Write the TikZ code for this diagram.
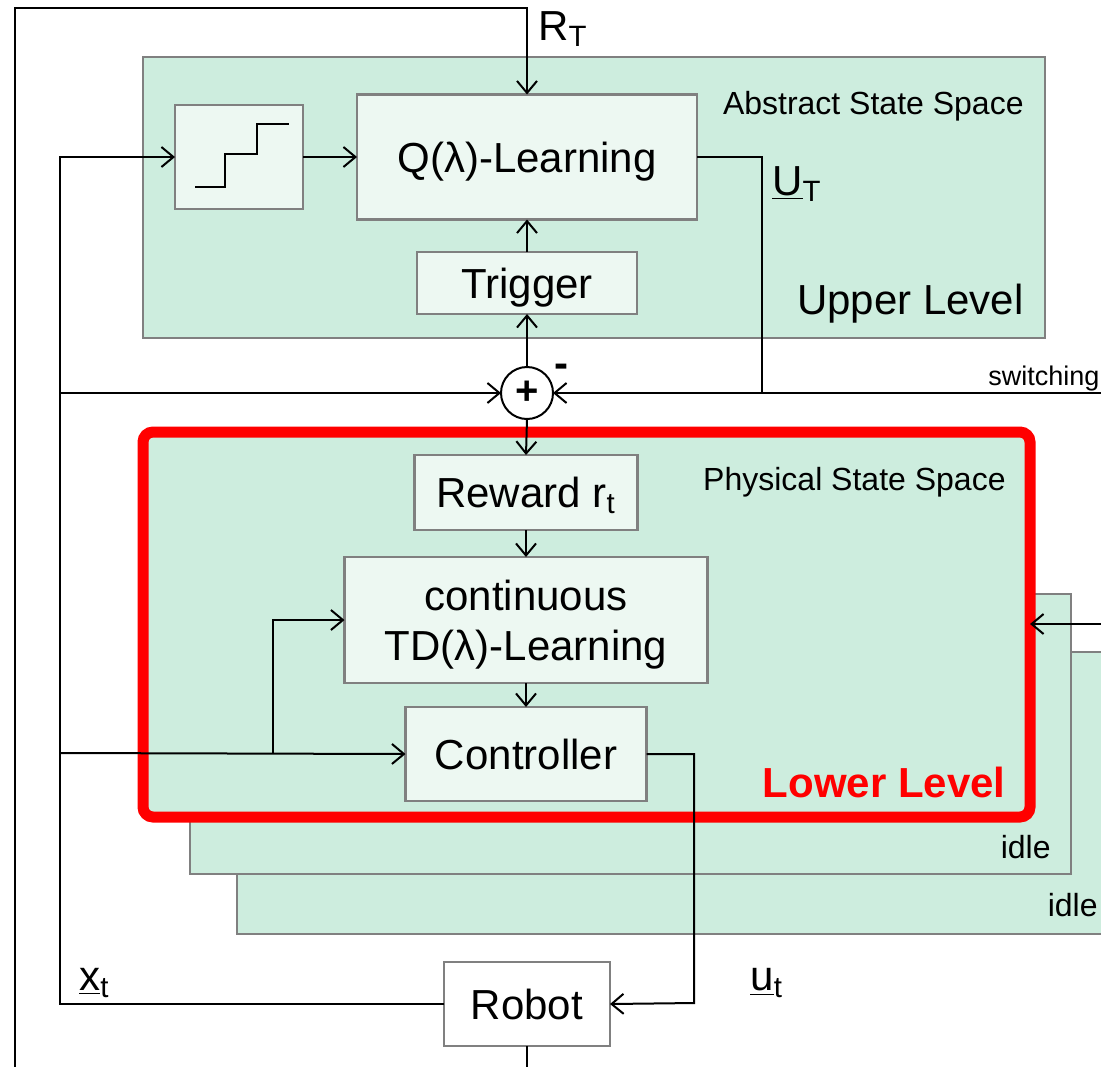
\documentclass[tikz,border=0pt]{standalone}
\usepackage{fontspec}
\setmainfont{Liberation Sans}
\usetikzlibrary{arrows.meta}

\definecolor{lvlgreen}{RGB}{205,237,222}
\definecolor{blockfill}{RGB}{237,248,242}
\definecolor{edgegray}{RGB}{128,128,128}

\tikzset{
    level/.style={draw=edgegray, fill=lvlgreen, line width=1.2pt, inner sep=0pt, outer sep=0pt},
    block/.style={draw=edgegray, fill=blockfill, line width=1.2pt, inner sep=0pt, outer sep=0pt,
        align=center, text depth=0pt, font=\fontsize{21}{25}\selectfont},
    wire/.style={line width=1pt},
    tag/.style={inner sep=0pt, font=\fontsize{16}{19}\selectfont},
    sig/.style={inner sep=0pt, font=\fontsize{21}{25}\selectfont},
    >={Straight Barb[length=6pt,width=10pt]}
}

\begin{document}
\begin{tikzpicture}[x=0.5pt, y=-0.5pt]
    \clip (0,0) rectangle (1101,1066);

    % upper level
    \draw[level] (143,57) rectangle (1045,338);
    \node[tag, anchor=east] (abstract) at (1024,106) {Abstract State Space};
    \node[sig, anchor=east] (upperlbl) at (1024,304) {Upper Level};

    \node[block, minimum width=64pt, minimum height=52pt] (step) at (239,157) {};
    \draw[wire] (195,187) -- (225,187) -- (225,154) -- (257,154) -- (257,124) -- (289,124);
    \node[block, minimum width=170pt, minimum height=62.5pt] (qlearn) at (527,157) {Q(λ)-Learning};
    \node[block, minimum width=110pt, minimum height=31pt] (trigger) at (527,283) {Trigger};

    % lower level, with the idle copies behind it
    \draw[level] (237,652) rectangle (1120,934);
    \node[tag, anchor=east] (idleB) at (1098,905) {idle};
    \draw[level] (190,594) rectangle (1071,874);
    \node[tag, anchor=east] (idleA) at (1051,847) {idle};
    \node[level, draw=red, line width=5.5pt, rounded corners=5pt,
        minimum width=443.5pt, minimum height=192.5pt] (lower) at (586.5,624.5) {};
    \node[tag, anchor=east] (physical) at (1006,482) {Physical State Space};
    \node[sig, anchor=east, text=red, font=\bfseries\fontsize{21}{25}\selectfont] (lowerlbl) at (1006,782) {Lower Level};

    \node[block, minimum width=111.5pt, minimum height=37.5pt] (reward) at (526,492.5) {Reward r\textsubscript{t}};
    \node[block, minimum width=181.5pt, minimum height=63pt] (td) at (526,620) {continuous\\TD(λ)-Learning};
    \node[block, minimum width=120.5pt, minimum height=47pt] (ctrl) at (526,754) {Controller};
    \node[block, fill=white, minimum width=83pt, minimum height=42pt] (robot) at (527,1004) {Robot};

    % comparison
    \node[draw, circle, wire, fill=white, minimum size=26pt, inner sep=0pt, outer sep=0pt,
        font=\bfseries\fontsize{20}{20}\selectfont] (sum) at (527,393) {+};
    \node[sig, font=\bfseries\fontsize{21}{25}\selectfont] (minus) at (561,371) {-};

    % free ends
    \coordinate (fbin) at (15,1080);
    \coordinate (rtop) at (527,8);
    \coordinate (xtop) at (60,157);
    \coordinate (xsum) at (60,393);
    \coordinate (xctl) at (60,753);
    \coordinate (xtd) at (273,753);
    \coordinate (uturn) at (762,393);
    \coordinate (swin) at (1120,393);
    \coordinate (idlein) at (1120,624);
    \coordinate (ucorner) at (694,1003);
    \coordinate (robout) at (527,1080);

    % connectors
    \draw[wire, ->] (fbin) |- (rtop) -- (qlearn.north);
    \draw[wire, ->] (step.east) -- (qlearn.west);
    \draw[wire, ->] (trigger.north) -- (qlearn.south);
    \draw[wire, ->] (sum.north) -- (trigger.south);
    \draw[wire, ->] (qlearn.east) -| (uturn) -- (sum.east);
    \draw[wire] (swin) -- (uturn);
    \draw[wire, ->] (xsum) -- (sum.west);
    \draw[wire, ->] (sum.south) -- (reward.north);
    \draw[wire, ->] (reward.south) -- (td.north);
    \draw[wire, ->] (td.south) -- (ctrl.north);
    \draw[wire, ->] (xctl) -- (ctrl.west);
    \draw[wire, ->] (xtd) |- (td.west);
    \draw[wire, ->] (idlein) -- (idlein -| lower.east);
    \draw[wire, ->] (ctrl.east) -| (ucorner) -- (robot.east);
    \draw[wire, ->] (robot.west) -| (xtop) -- (step.west);
    \draw[wire] (robot.south) -- (robout);

    % signal names
    \node[sig, anchor=west] (rlbl) at (538,29) {R\textsubscript{T}};
    \node[sig, anchor=west] (ulbl) at (772,184) {\underline{U}\textsubscript{T}};
    \node[font=\fontsize{13.5}{16}\selectfont, inner sep=0pt, anchor=west] (swlbl) at (988,379) {switching};
    \node[sig, anchor=west] (xlbl) at (79,983) {\underline{x}\textsubscript{t}};
    \node[sig, anchor=west] (utlbl) at (750,983) {\underline{u}\textsubscript{t}};
\end{tikzpicture}
\end{document}
